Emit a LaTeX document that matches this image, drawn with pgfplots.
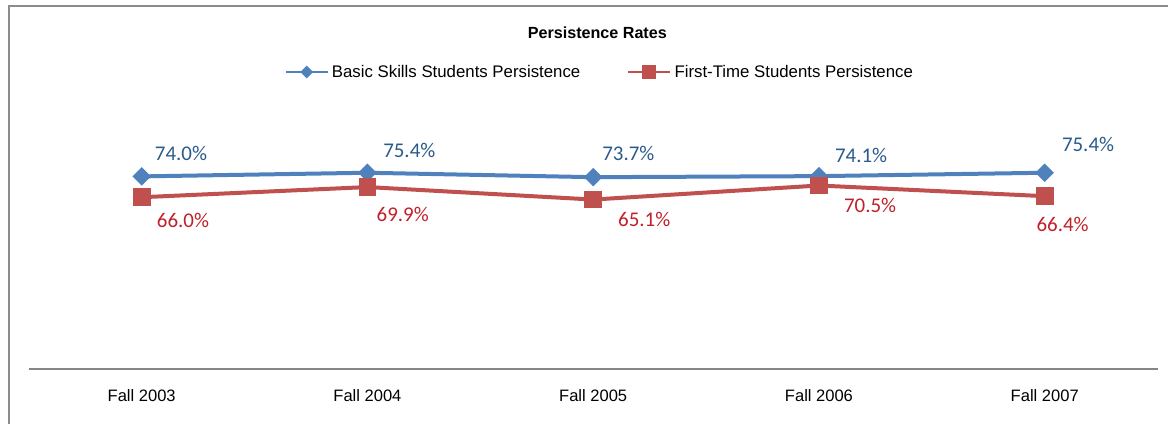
\documentclass[border=0pt]{standalone}
\usepackage{fontspec}
\setmainfont{Liberation Sans}
\newfontfamily\calib{Carlito}
\usepackage{pgfplots}
\pgfplotsset{compat=1.18}
\usepackage{pgfplotstable}
\definecolor{bl}{HTML}{4F81BD}
\definecolor{rd}{HTML}{C0504D}
\definecolor{bllab}{HTML}{2A5A8C}
\definecolor{rdlab}{HTML}{C0202A}
\definecolor{framec}{HTML}{8C8C8C}
\definecolor{axc}{HTML}{868686}
\pgfplotstableread{
x y dx dy
0 74.0 29.5 17.25
1 75.4 31.4 17
2 73.7 26.4 17.5
3 74.1 31.6 15.75
4 75.4 32.5 21.5
}\basic
\pgfplotstableread{
x y dx dy
0 66.0 31 -17.5
1 69.9 26.5 -20.8
2 65.1 38.25 -14.8
3 70.5 38.4 -15.2
4 66.4 13.4 -21
}\first
\begin{document}
\begin{tikzpicture}
\useasboundingbox (0,0) rectangle (876pt,318pt);
\draw[color=framec, line width=1.5pt] (6.4pt,0pt) -- (6.4pt,313.5pt) -- (876pt,313.5pt);
\node[font=\bfseries\fontsize{12.1}{14}\selectfont] at (448pt,293.5pt) {Persistence Rates};
\begin{axis}[
  at={(21.6pt,41.25pt)}, anchor=south west,
  scale only axis, width=846.6pt, height=195.2pt,
  xmin=-0.5, xmax=4.5, ymin=0, ymax=100,
  clip=false,
  hide y axis,
  axis x line*=bottom,
  x axis line style={color=axc, line width=1.3pt},
  xtick={0,1,2,3,4},
  xticklabels={Fall 2003,Fall 2004,Fall 2005,Fall 2006,Fall 2007},
  major tick length=0pt,
  xticklabel style={font=\fontsize{12.4}{14}\selectfont, yshift=-11.8pt},
  /pgf/number format/assume math mode=true,
  legend columns=2,
  legend style={draw=none, fill=none, at={(0.506,1.141)}, anchor=center,
    font=\fontsize{12.6}{15}\selectfont,
    /tikz/every even column/.append style={column sep=33pt}},
  legend cell align=left,
]
\addplot[color=bl, line width=3pt, mark=square*, mark size=3.4pt,
  mark options={rotate=45, solid},
  visualization depends on={\thisrow{dx} \as \labdx},
  visualization depends on={\thisrow{dy} \as \labdy},
  nodes near coords={\pgfmathprintnumber[fixed,fixed zerofill,precision=1,assume math mode=true]{\pgfplotspointmeta}\%},
  nodes near coords style={anchor=center, xshift=\labdx pt, yshift=\labdy pt,
    font=\calib\fontsize{15.7}{18}\selectfont, text=bllab},
  legend image code/.code={
    \draw[bl, line width=2.2pt] (0pt,0pt) -- (31.5pt,0pt);
    \fill[bl] (15.75pt,0pt) +(0pt,2.7pt) -- +(2.7pt,0pt) -- +(0pt,-2.7pt) -- +(-2.7pt,0pt) -- cycle;
  },
] table[x=x,y=y] {\basic};
\addlegendentry{Basic Skills Students Persistence}
\addplot[color=rd, line width=3pt, mark=square*, mark size=5.2pt,
  mark options={solid},
  visualization depends on={\thisrow{dx} \as \labdx},
  visualization depends on={\thisrow{dy} \as \labdy},
  nodes near coords={\pgfmathprintnumber[fixed,fixed zerofill,precision=1,assume math mode=true]{\pgfplotspointmeta}\%},
  nodes near coords style={anchor=center, xshift=\labdx pt, yshift=\labdy pt,
    font=\calib\fontsize{15.7}{18}\selectfont, text=rdlab},
  legend image code/.code={
    \draw[rd, line width=2.2pt] (0pt,0pt) -- (31.5pt,0pt);
    \fill[rd] (12pt,-3.75pt) rectangle (19.5pt,3.75pt);
  },
] table[x=x,y=y] {\first};
\addlegendentry{First-Time Students Persistence}
\end{axis}
\end{tikzpicture}
\end{document}
